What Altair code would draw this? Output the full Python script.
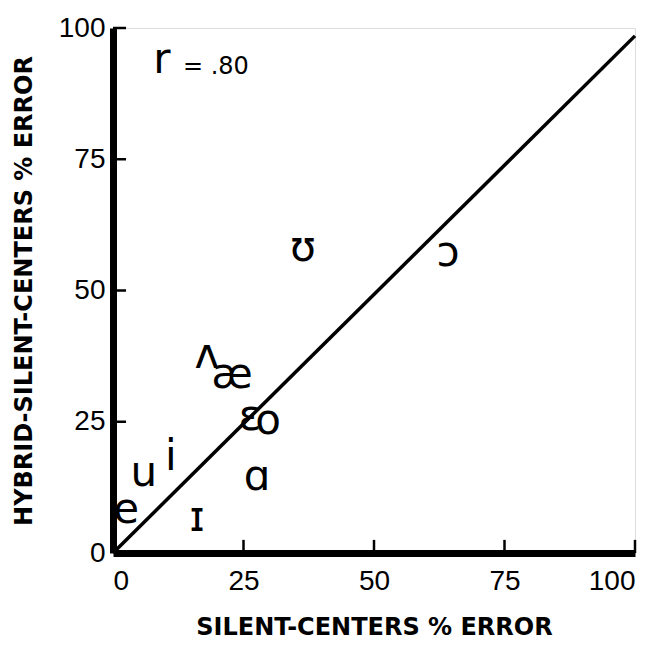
import altair as alt
import pandas as pd

# vowel symbols and their error rates
vowels = ["e", "u", "i", "ɪ", "ʌ", "æ", "ɛ", "o", "ɑ", "ʊ", "ɔ"]
silent_centers = [2.5, 5.9, 11.1, 16.1, 18.0, 22.8, 26.2, 29.7, 27.6, 36.4, 64.2]
hybrid_silent = [8.2, 15.2, 18.3, 6.7, 37.7, 33.9, 25.9, 25.1, 14.5, 58.1, 57.1]

line_x = [0, 100]
line_y = [0, 98.5]

tick_values = [25, 50, 75, 100]
tick_len = 2.5

pts = pd.DataFrame({"x": silent_centers, "y": hybrid_silent, "label": vowels})
line_df = pd.DataFrame({"x": line_x, "y": line_y})
xticks = pd.DataFrame({"t": tick_values, "zero": [0] * 4, "len": [tick_len] * 4})

FONT = "DejaVu Sans"

xscale = alt.Scale(domain=[0, 100], nice=False, zero=True)
yscale = alt.Scale(domain=[0, 100], nice=False, zero=True)

xaxis = alt.Axis(
    values=[0, 25, 50, 75, 100], format="d", grid=False, ticks=False,
    domainColor="black", domainWidth=7, labelFont="Liberation Sans",
    labelFontSize=28, labelColor="black", labelPadding=14,
    title="SILENT-CENTERS % ERROR", titleFont=FONT, titleFontWeight="bold",
    titleFontSize=24, titleColor="black", titlePadding=20,
)
yaxis = alt.Axis(
    values=[0, 25, 50, 75, 100], format="d", grid=False, ticks=False,
    domainColor="black", domainWidth=7, labelFont="Liberation Sans",
    labelFontSize=28, labelColor="black", labelPadding=8,
    title="HYBRID-SILENT-CENTERS % ERROR", titleFont=FONT, titleFontWeight="bold",
    titleFontSize=24, titleColor="black", titlePadding=22,
)

base_line = alt.Chart(line_df).mark_line(color="black", strokeWidth=3.5).encode(
    x=alt.X("x:Q", scale=xscale, axis=xaxis),
    y=alt.Y("y:Q", scale=yscale, axis=yaxis),
)

xt = alt.Chart(xticks).mark_rule(color="black", strokeWidth=2.5).encode(
    x=alt.X("t:Q", scale=xscale), y=alt.Y("zero:Q", scale=yscale), y2="len:Q"
)
yt = alt.Chart(xticks).mark_rule(color="black", strokeWidth=2.5).encode(
    y=alt.Y("t:Q", scale=yscale), x=alt.X("zero:Q", scale=xscale), x2="len:Q"
)

text = alt.Chart(pts).mark_text(
    font=FONT, fontSize=42, color="black", align="center", baseline="middle"
).encode(
    x=alt.X("x:Q", scale=xscale), y=alt.Y("y:Q", scale=yscale), text="label:N"
)

r_df = pd.DataFrame({"x": [7.7], "y": [91.4], "t": ["r"]})
v_df = pd.DataFrame({"x": [13.4], "y": [91.2], "t": ["= .80"]})
r_txt = alt.Chart(r_df).mark_text(
    font=FONT, fontSize=42, color="black", align="left", baseline="alphabetic"
).encode(x=alt.X("x:Q", scale=xscale), y=alt.Y("y:Q", scale=yscale), text="t:N")
v_txt = alt.Chart(v_df).mark_text(
    font=FONT, fontSize=24, color="black", align="left", baseline="alphabetic"
).encode(x=alt.X("x:Q", scale=xscale), y=alt.Y("y:Q", scale=yscale), text="t:N")

chart = alt.layer(base_line, xt, yt, text, r_txt, v_txt).properties(
    width=522, height=525, autosize="none",
    padding={"left": 105, "top": 20, "right": 15, "bottom": 100},
).configure_view(stroke=None).configure(background="white")

chart.save("out.html", embed_options={"renderer": "svg", "actions": False})
